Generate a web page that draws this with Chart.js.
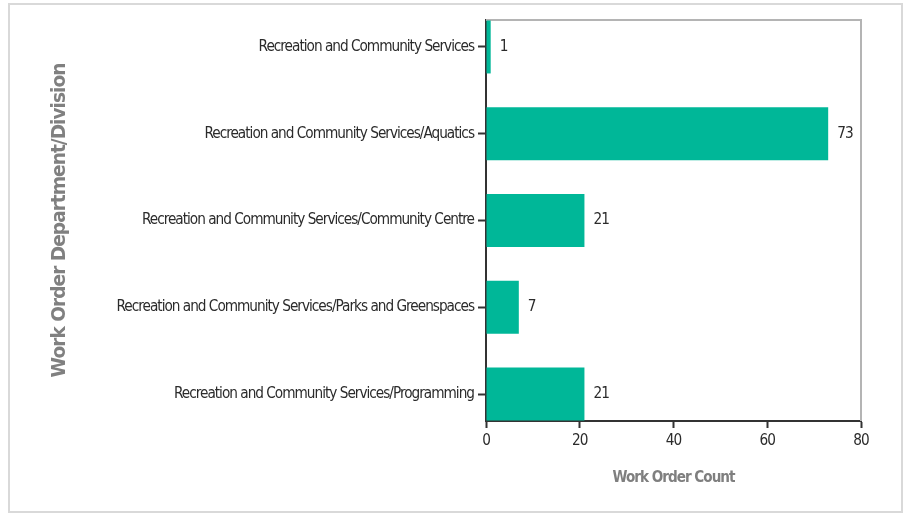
<!DOCTYPE html>
<html>
<head>
<meta charset="utf-8">
<script src="https://cdn.jsdelivr.net/npm/chart.js@4"></script>
<style>
  html, body { margin: 0; padding: 0; background: #fff; }
  #wrap { position: relative; width: 907px; height: 514px; }
  #frame { position: absolute; left: 8px; top: 3px; width: 891px; height: 506px;
           border: 2px solid #d9d9d9; pointer-events: none; }
</style>
</head>
<body>
<div id="wrap">
  <canvas id="myChart" width="907" height="514"></canvas>
  <div id="frame"></div>
</div>
<script>
var divisions = [
  'Recreation and Community Services',
  'Recreation and Community Services/Aquatics',
  'Recreation and Community Services/Community Centre',
  'Recreation and Community Services/Parks and Greenspaces',
  'Recreation and Community Services/Programming'
];
var counts = [1, 73, 21, 7, 21];
var xTicks = [0, 20, 40, 60, 80];

var narrow = '"DejaVu Sans Condensed", "DejaVu Sans", sans-serif';
var wide = '"DejaVu Sans", sans-serif';
var spacing = '-1px'; // tighter letters, the original uses a condensed face

// pick a font size so a text comes out at a given width
function fitSize(text, family, weight, width) {
  var c = document.createElement('canvas').getContext('2d');
  c.letterSpacing = spacing;
  var s = 16;
  for (var k = 0; k < 6; k++) {
    c.font = weight + ' ' + s + 'px ' + family;
    s = s * width / c.measureText(text).width;
  }
  return Math.round(s * 10) / 10;
}
var labelSize = fitSize(divisions[3], narrow, 'normal', 358);
var xTitleSize = fitSize('Work Order Count', narrow, 'bold', 122);
var yTitleSize = fitSize('Work Order Department/Division', wide, 'bold', 313);

var tightText = {
  id: 'tightText',
  beforeDraw: function(chart) { chart.ctx.letterSpacing = spacing; }
};

// plot frame: gray top and right edge
var frameLines = {
  id: 'frameLines',
  beforeDatasetsDraw: function(chart) {
    var a = chart.chartArea, c = chart.ctx;
    c.save();
    c.strokeStyle = '#b4b4b4';
    c.lineWidth = 2;
    c.beginPath();
    c.moveTo(a.left, a.top);
    c.lineTo(a.right, a.top);
    c.lineTo(a.right, a.bottom);
    c.stroke();
    c.restore();
  }
};

// value labels after each bar
var valueLabels = {
  id: 'valueLabels',
  afterDatasetsDraw: function(chart) {
    var c = chart.ctx;
    var meta = chart.getDatasetMeta(0);
    c.save();
    c.font = labelSize + 'px ' + narrow;
    c.fillStyle = '#2b2b2b';
    c.textAlign = 'left';
    c.textBaseline = 'middle';
    meta.data.forEach(function(bar, i) {
      c.fillText(String(counts[i]), bar.x + 9, bar.y);
    });
    c.restore();
  }
};

var ctx = document.getElementById('myChart');
var myChart = new Chart(ctx, {
  type: 'bar',
  data: {
    datasets: [{
      data: counts.map(function(v, i) { return { x: v, y: i }; }),
      backgroundColor: '#00b798',
      borderWidth: 0,
      categoryPercentage: 1,
      barPercentage: 0.61
    }]
  },
  options: {
    indexAxis: 'y',
    responsive: false,
    animation: false,
    layout: { padding: { top: 20, right: 46, left: 0, bottom: 0 } },
    plugins: {
      legend: { display: false },
      tooltip: { enabled: false }
    },
    scales: {
      y: {
        type: 'linear',
        reverse: true,
        offset: false,
        min: -0.311,
        max: 4.311,
        afterBuildTicks: function(scale) {
          scale.ticks = divisions.map(function(_, i) { return { value: i }; });
        },
        afterFit: function(scale) { scale.width = 486; },
        ticks: {
          color: '#2b2b2b',
          font: { family: narrow, size: labelSize },
          padding: 4,
          callback: function(v) { return divisions[v]; }
        },
        grid: { offset: false, drawOnChartArea: false, tickLength: 8, tickColor: '#333', tickWidth: 2 },
        border: { color: '#333', width: 2 },
        title: {
          display: true,
          text: 'Work Order Department/Division',
          color: '#808080',
          font: { family: wide, size: yTitleSize, weight: 'bold' },
          padding: { top: 60 - yTitleSize * 0.6, bottom: 0 }
        }
      },
      x: {
        type: 'linear',
        min: xTicks[0],
        max: xTicks[xTicks.length - 1],
        afterBuildTicks: function(scale) {
          scale.ticks = xTicks.map(function(v) { return { value: v }; });
        },
        afterFit: function(scale) { scale.height = 93; },
        ticks: {
          color: '#2b2b2b',
          font: { family: narrow, size: labelSize },
          padding: 4
        },
        grid: { drawOnChartArea: false, tickLength: 7, tickColor: '#333', tickWidth: 2 },
        border: { color: '#333', width: 2 },
        title: {
          display: true,
          text: 'Work Order Count',
          color: '#7f7f7f',
          font: { family: narrow, size: xTitleSize, weight: 'bold' },
          padding: { top: 0, bottom: 36 - xTitleSize * 0.6 }
        }
      }
    }
  },
  plugins: [tightText, frameLines, valueLabels]
});
</script>
</body>
</html>
